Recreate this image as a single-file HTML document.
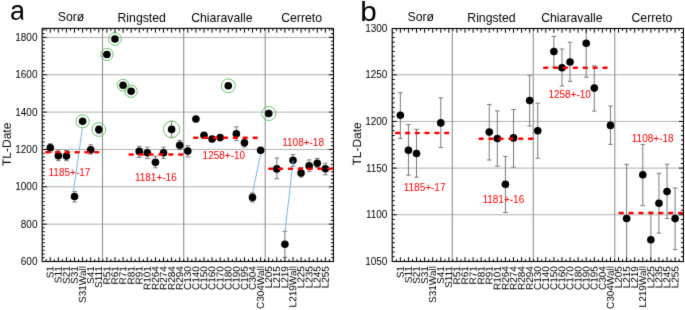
<!DOCTYPE html>
<html><head><meta charset="utf-8"><style>
html,body{margin:0;padding:0;background:#fff;}
body{width:685px;height:310px;overflow:hidden;}
svg{display:block;will-change:transform;}
</style></head><body>
<svg xmlns="http://www.w3.org/2000/svg" width="685" height="310" viewBox="0 0 685 310" font-family='"Liberation Sans", sans-serif'>
<defs><filter id="soft" color-interpolation-filters="sRGB" filterUnits="userSpaceOnUse" x="0" y="0" width="685" height="310"><feConvolveMatrix order="3" kernelMatrix="0.015 0.07 0.015 0.07 0.66 0.07 0.015 0.07 0.015" edgeMode="duplicate"/></filter></defs>
<g filter="url(#soft)">
<rect width="685" height="310" fill="#fff"/>
<line x1="42.2" y1="224.15" x2="333.45" y2="224.15" stroke="#b0b0b0" stroke-width="1"/>
<line x1="42.2" y1="186.8" x2="333.45" y2="186.8" stroke="#b0b0b0" stroke-width="1"/>
<line x1="42.2" y1="149.45" x2="333.45" y2="149.45" stroke="#b0b0b0" stroke-width="1"/>
<line x1="42.2" y1="112.1" x2="333.45" y2="112.1" stroke="#b0b0b0" stroke-width="1"/>
<line x1="42.2" y1="74.75" x2="333.45" y2="74.75" stroke="#b0b0b0" stroke-width="1"/>
<line x1="42.2" y1="37.4" x2="333.45" y2="37.4" stroke="#b0b0b0" stroke-width="1"/>
<line x1="102.5" y1="28.4" x2="102.5" y2="261.5" stroke="#909090" stroke-width="1.1"/>
<line x1="183.7" y1="28.4" x2="183.7" y2="261.5" stroke="#909090" stroke-width="1.1"/>
<line x1="265.2" y1="28.4" x2="265.2" y2="261.5" stroke="#909090" stroke-width="1.1"/>
<text x="37.5" y="264.9" text-anchor="end" font-size="10">600</text>
<text x="37.5" y="227.55" text-anchor="end" font-size="10">800</text>
<text x="37.5" y="190.2" text-anchor="end" font-size="10">1000</text>
<text x="37.5" y="152.85" text-anchor="end" font-size="10">1200</text>
<text x="37.5" y="115.5" text-anchor="end" font-size="10">1400</text>
<text x="37.5" y="78.15" text-anchor="end" font-size="10">1600</text>
<text x="37.5" y="40.8" text-anchor="end" font-size="10">1800</text>
<text transform="translate(53.55,266.1) rotate(-89.9)" text-anchor="end" font-size="10">S1</text>
<text transform="translate(61.64,266.1) rotate(-89.9)" text-anchor="end" font-size="10">S11</text>
<text transform="translate(69.73,266.1) rotate(-89.9)" text-anchor="end" font-size="10">S21</text>
<text transform="translate(77.82,266.1) rotate(-89.9)" text-anchor="end" font-size="10">S31</text>
<text transform="translate(85.91,266.1) rotate(-89.9)" text-anchor="end" font-size="10">S31Wall</text>
<text transform="translate(94,266.1) rotate(-89.9)" text-anchor="end" font-size="10">S41</text>
<text transform="translate(102.09,266.1) rotate(-89.9)" text-anchor="end" font-size="10">S111</text>
<text transform="translate(110.19,266.1) rotate(-89.9)" text-anchor="end" font-size="10">R51</text>
<text transform="translate(118.28,266.1) rotate(-89.9)" text-anchor="end" font-size="10">R61</text>
<text transform="translate(126.37,266.1) rotate(-89.9)" text-anchor="end" font-size="10">R71</text>
<text transform="translate(134.46,266.1) rotate(-89.9)" text-anchor="end" font-size="10">R81</text>
<text transform="translate(142.55,266.1) rotate(-89.9)" text-anchor="end" font-size="10">R91</text>
<text transform="translate(150.64,266.1) rotate(-89.9)" text-anchor="end" font-size="10">R101</text>
<text transform="translate(158.74,266.1) rotate(-89.9)" text-anchor="end" font-size="10">R264</text>
<text transform="translate(166.83,266.1) rotate(-89.9)" text-anchor="end" font-size="10">R274</text>
<text transform="translate(174.92,266.1) rotate(-89.9)" text-anchor="end" font-size="10">R284</text>
<text transform="translate(183.01,266.1) rotate(-89.9)" text-anchor="end" font-size="10">R294</text>
<text transform="translate(191.1,266.1) rotate(-89.9)" text-anchor="end" font-size="10">C130</text>
<text transform="translate(199.19,266.1) rotate(-89.9)" text-anchor="end" font-size="10">C140</text>
<text transform="translate(207.29,266.1) rotate(-89.9)" text-anchor="end" font-size="10">C150</text>
<text transform="translate(215.38,266.1) rotate(-89.9)" text-anchor="end" font-size="10">C160</text>
<text transform="translate(223.47,266.1) rotate(-89.9)" text-anchor="end" font-size="10">C170</text>
<text transform="translate(231.56,266.1) rotate(-89.9)" text-anchor="end" font-size="10">C180</text>
<text transform="translate(239.65,266.1) rotate(-89.9)" text-anchor="end" font-size="10">C190</text>
<text transform="translate(247.74,266.1) rotate(-89.9)" text-anchor="end" font-size="10">C195</text>
<text transform="translate(255.83,266.1) rotate(-89.9)" text-anchor="end" font-size="10">C304</text>
<text transform="translate(263.93,266.1) rotate(-89.9)" text-anchor="end" font-size="10">C304Wall</text>
<text transform="translate(272.02,266.1) rotate(-89.9)" text-anchor="end" font-size="10">L205</text>
<text transform="translate(280.11,266.1) rotate(-89.9)" text-anchor="end" font-size="10">L215</text>
<text transform="translate(288.2,266.1) rotate(-89.9)" text-anchor="end" font-size="10">L219</text>
<text transform="translate(296.29,266.1) rotate(-89.9)" text-anchor="end" font-size="10">L219Wall</text>
<text transform="translate(304.38,266.1) rotate(-89.9)" text-anchor="end" font-size="10">L225</text>
<text transform="translate(312.48,266.1) rotate(-89.9)" text-anchor="end" font-size="10">L235</text>
<text transform="translate(320.57,266.1) rotate(-89.9)" text-anchor="end" font-size="10">L245</text>
<text transform="translate(328.66,266.1) rotate(-89.9)" text-anchor="end" font-size="10">L255</text>
<text x="48.5" y="176" font-size="10" fill="#ff0000">1185+-17</text>
<text x="134.9" y="181.1" font-size="10" fill="#ff0000">1181+-16</text>
<text x="202.6" y="159.2" font-size="10" fill="#ff0000">1258+-10</text>
<text x="282.2" y="146.4" font-size="10" fill="#ff0000">1108+-18</text>
<path d="M50.25 143.7V152.4M47.95 143.7h4.6M47.95 152.4h4.6M58.34 150V160.7M56.04 150h4.6M56.04 160.7h4.6M66.43 150.5V160.7M64.13 150.5h4.6M64.13 160.7h4.6M74.52 191.5V202M72.22 191.5h4.6M72.22 202h4.6M90.7 144.8V154.1M88.4 144.8h4.6M88.4 154.1h4.6M98.79 126V133.5M96.49 126h4.6M96.49 133.5h4.6M139.25 146.3V157.4M136.95 146.3h4.6M136.95 157.4h4.6M147.34 147.2V158.5M145.04 147.2h4.6M145.04 158.5h4.6M155.44 156.2V167.8M153.14 156.2h4.6M153.14 167.8h4.6M163.53 147.2V158.5M161.23 147.2h4.6M161.23 158.5h4.6M171.62 121.3V137.7M169.32 121.3h4.6M169.32 137.7h4.6M179.71 140.4V149.7M177.41 140.4h4.6M177.41 149.7h4.6M187.8 145.8V156.8M185.5 145.8h4.6M185.5 156.8h4.6M236.35 126.9V140.6M234.05 126.9h4.6M234.05 140.6h4.6M244.44 139V147M242.14 139h4.6M242.14 147h4.6M252.53 193V202M250.23 193h4.6M250.23 202h4.6M276.81 158V178.7M274.51 158h4.6M274.51 178.7h4.6M284.9 231.3V257.3M282.6 231.3h4.6M282.6 257.3h4.6M292.99 154.5V166.4M290.69 154.5h4.6M290.69 166.4h4.6M301.08 167.6V177M298.78 167.6h4.6M298.78 177h4.6M309.18 159.9V171.3M306.88 159.9h4.6M306.88 171.3h4.6M317.27 158.4V167.6M314.97 158.4h4.6M314.97 167.6h4.6M325.36 163.2V174.8M323.06 163.2h4.6M323.06 174.8h4.6" stroke="#7a7a7a" stroke-width="1" fill="none"/>
<line x1="82.3" y1="128.4" x2="73.4" y2="192" stroke="#74b8ee" stroke-width="1"/>
<line x1="260.8" y1="153" x2="252.7" y2="192.5" stroke="#74b8ee" stroke-width="1"/>
<circle cx="82.61" cy="121.3" r="6.6" fill="none" stroke="#66c466" stroke-width="1"/>
<circle cx="98.79" cy="129.5" r="6.9" fill="none" stroke="#66c466" stroke-width="1"/>
<circle cx="106.89" cy="54.5" r="6.1" fill="none" stroke="#66c466" stroke-width="1"/>
<circle cx="114.98" cy="39" r="6.3" fill="none" stroke="#66c466" stroke-width="1"/>
<circle cx="123.07" cy="85.2" r="5.9" fill="none" stroke="#66c466" stroke-width="1"/>
<circle cx="131.16" cy="91.3" r="6.1" fill="none" stroke="#66c466" stroke-width="1"/>
<circle cx="171.62" cy="129.4" r="8.2" fill="none" stroke="#66c466" stroke-width="1"/>
<circle cx="228.26" cy="85.8" r="7" fill="none" stroke="#66c466" stroke-width="1"/>
<circle cx="268.72" cy="113.5" r="7" fill="none" stroke="#66c466" stroke-width="1"/>
<g fill="#000"><circle cx="50.25" cy="147.8" r="3.8"/><circle cx="58.34" cy="155.7" r="3.8"/><circle cx="66.43" cy="156" r="3.8"/><circle cx="74.52" cy="196.5" r="3.8"/><circle cx="82.61" cy="121.3" r="3.8"/><circle cx="90.7" cy="149.7" r="3.8"/><circle cx="98.79" cy="129.5" r="3.8"/><circle cx="106.89" cy="54.5" r="3.8"/><circle cx="114.98" cy="39" r="3.8"/><circle cx="123.07" cy="85.2" r="3.8"/><circle cx="131.16" cy="91.3" r="3.8"/><circle cx="139.25" cy="151.4" r="3.8"/><circle cx="147.34" cy="152.7" r="3.8"/><circle cx="155.44" cy="162.2" r="3.8"/><circle cx="163.53" cy="152.7" r="3.8"/><circle cx="171.62" cy="129.4" r="3.8"/><circle cx="179.71" cy="145.2" r="3.8"/><circle cx="187.8" cy="151.1" r="3.8"/><circle cx="195.89" cy="119" r="3.8"/><circle cx="203.99" cy="135.3" r="3.8"/><circle cx="212.08" cy="139" r="3.8"/><circle cx="220.17" cy="137.6" r="3.8"/><circle cx="228.26" cy="85.8" r="3.8"/><circle cx="236.35" cy="133.8" r="3.8"/><circle cx="244.44" cy="142.7" r="3.8"/><circle cx="252.53" cy="197.4" r="3.8"/><circle cx="260.63" cy="150.3" r="3.8"/><circle cx="268.72" cy="113.5" r="3.8"/><circle cx="276.81" cy="168.9" r="3.8"/><circle cx="284.9" cy="244.3" r="3.8"/><circle cx="292.99" cy="160.2" r="3.8"/><circle cx="301.08" cy="173" r="3.8"/><circle cx="309.18" cy="165.9" r="3.8"/><circle cx="317.27" cy="163.3" r="3.8"/><circle cx="325.36" cy="168.8" r="3.8"/></g>
<line x1="293.1" y1="160.6" x2="285.1" y2="231" stroke="#74b8ee" stroke-width="1"/>
<path d="M46.25 152.3h3M56.05 152.3h3M65.85 152.3h3M75.65 152.3h3M85.45 152.3h3M95.25 152.3h3M129.65 154.5h3M139.55 154.5h3M149.45 154.5h3M159.35 154.5h3M169.25 154.5h3M179.15 154.5h3M194.25 137.7h3M204.15 137.7h3M214.05 137.7h3M223.95 137.7h3M233.85 137.7h3M243.75 137.7h3M253.65 137.7h3M269.25 168.8h3M279.1 168.8h3M288.95 168.8h3M298.8 168.8h3M308.65 168.8h3M318.5 168.8h3M328.35 168.8h3" stroke="#ff0000" stroke-width="2.5" stroke-linecap="round" fill="none"/>
<path d="M46.2 28.4v2.4M46.2 261.5v-2.4M50.25 28.4v4.3M50.25 261.5v-4.3M54.29 28.4v2.4M54.29 261.5v-2.4M58.34 28.4v4.3M58.34 261.5v-4.3M62.38 28.4v2.4M62.38 261.5v-2.4M66.43 28.4v4.3M66.43 261.5v-4.3M70.47 28.4v2.4M70.47 261.5v-2.4M74.52 28.4v4.3M74.52 261.5v-4.3M78.57 28.4v2.4M78.57 261.5v-2.4M82.61 28.4v4.3M82.61 261.5v-4.3M86.66 28.4v2.4M86.66 261.5v-2.4M90.7 28.4v4.3M90.7 261.5v-4.3M94.75 28.4v2.4M94.75 261.5v-2.4M98.79 28.4v4.3M98.79 261.5v-4.3M102.84 28.4v2.4M102.84 261.5v-2.4M106.89 28.4v4.3M106.89 261.5v-4.3M110.93 28.4v2.4M110.93 261.5v-2.4M114.98 28.4v4.3M114.98 261.5v-4.3M119.02 28.4v2.4M119.02 261.5v-2.4M123.07 28.4v4.3M123.07 261.5v-4.3M127.12 28.4v2.4M127.12 261.5v-2.4M131.16 28.4v4.3M131.16 261.5v-4.3M135.21 28.4v2.4M135.21 261.5v-2.4M139.25 28.4v4.3M139.25 261.5v-4.3M143.3 28.4v2.4M143.3 261.5v-2.4M147.34 28.4v4.3M147.34 261.5v-4.3M151.39 28.4v2.4M151.39 261.5v-2.4M155.44 28.4v4.3M155.44 261.5v-4.3M159.48 28.4v2.4M159.48 261.5v-2.4M163.53 28.4v4.3M163.53 261.5v-4.3M167.57 28.4v2.4M167.57 261.5v-2.4M171.62 28.4v4.3M171.62 261.5v-4.3M175.66 28.4v2.4M175.66 261.5v-2.4M179.71 28.4v4.3M179.71 261.5v-4.3M183.76 28.4v2.4M183.76 261.5v-2.4M187.8 28.4v4.3M187.8 261.5v-4.3M191.85 28.4v2.4M191.85 261.5v-2.4M195.89 28.4v4.3M195.89 261.5v-4.3M199.94 28.4v2.4M199.94 261.5v-2.4M203.99 28.4v4.3M203.99 261.5v-4.3M208.03 28.4v2.4M208.03 261.5v-2.4M212.08 28.4v4.3M212.08 261.5v-4.3M216.12 28.4v2.4M216.12 261.5v-2.4M220.17 28.4v4.3M220.17 261.5v-4.3M224.21 28.4v2.4M224.21 261.5v-2.4M228.26 28.4v4.3M228.26 261.5v-4.3M232.31 28.4v2.4M232.31 261.5v-2.4M236.35 28.4v4.3M236.35 261.5v-4.3M240.4 28.4v2.4M240.4 261.5v-2.4M244.44 28.4v4.3M244.44 261.5v-4.3M248.49 28.4v2.4M248.49 261.5v-2.4M252.53 28.4v4.3M252.53 261.5v-4.3M256.58 28.4v2.4M256.58 261.5v-2.4M260.63 28.4v4.3M260.63 261.5v-4.3M264.67 28.4v2.4M264.67 261.5v-2.4M268.72 28.4v4.3M268.72 261.5v-4.3M272.76 28.4v2.4M272.76 261.5v-2.4M276.81 28.4v4.3M276.81 261.5v-4.3M280.85 28.4v2.4M280.85 261.5v-2.4M284.9 28.4v4.3M284.9 261.5v-4.3M288.95 28.4v2.4M288.95 261.5v-2.4M292.99 28.4v4.3M292.99 261.5v-4.3M297.04 28.4v2.4M297.04 261.5v-2.4M301.08 28.4v4.3M301.08 261.5v-4.3M305.13 28.4v2.4M305.13 261.5v-2.4M309.18 28.4v4.3M309.18 261.5v-4.3M313.22 28.4v2.4M313.22 261.5v-2.4M317.27 28.4v4.3M317.27 261.5v-4.3M321.31 28.4v2.4M321.31 261.5v-2.4M325.36 28.4v4.3M325.36 261.5v-4.3M329.4 28.4v2.4M329.4 261.5v-2.4M42.2 257.76h2.5M333.45 257.76h-2.5M42.2 254.03h2.5M333.45 254.03h-2.5M42.2 250.29h2.5M333.45 250.29h-2.5M42.2 246.56h2.5M333.45 246.56h-2.5M42.2 242.82h2.5M333.45 242.82h-2.5M42.2 239.09h2.5M333.45 239.09h-2.5M42.2 235.35h2.5M333.45 235.35h-2.5M42.2 231.62h2.5M333.45 231.62h-2.5M42.2 227.88h2.5M333.45 227.88h-2.5M42.2 224.15h4.5M333.45 224.15h-4.5M42.2 220.41h2.5M333.45 220.41h-2.5M42.2 216.68h2.5M333.45 216.68h-2.5M42.2 212.94h2.5M333.45 212.94h-2.5M42.2 209.21h2.5M333.45 209.21h-2.5M42.2 205.47h2.5M333.45 205.47h-2.5M42.2 201.74h2.5M333.45 201.74h-2.5M42.2 198h2.5M333.45 198h-2.5M42.2 194.27h2.5M333.45 194.27h-2.5M42.2 190.53h2.5M333.45 190.53h-2.5M42.2 186.8h4.5M333.45 186.8h-4.5M42.2 183.06h2.5M333.45 183.06h-2.5M42.2 179.33h2.5M333.45 179.33h-2.5M42.2 175.59h2.5M333.45 175.59h-2.5M42.2 171.86h2.5M333.45 171.86h-2.5M42.2 168.12h2.5M333.45 168.12h-2.5M42.2 164.39h2.5M333.45 164.39h-2.5M42.2 160.66h2.5M333.45 160.66h-2.5M42.2 156.92h2.5M333.45 156.92h-2.5M42.2 153.19h2.5M333.45 153.19h-2.5M42.2 149.45h4.5M333.45 149.45h-4.5M42.2 145.72h2.5M333.45 145.72h-2.5M42.2 141.98h2.5M333.45 141.98h-2.5M42.2 138.25h2.5M333.45 138.25h-2.5M42.2 134.51h2.5M333.45 134.51h-2.5M42.2 130.78h2.5M333.45 130.78h-2.5M42.2 127.04h2.5M333.45 127.04h-2.5M42.2 123.31h2.5M333.45 123.31h-2.5M42.2 119.57h2.5M333.45 119.57h-2.5M42.2 115.84h2.5M333.45 115.84h-2.5M42.2 112.1h4.5M333.45 112.1h-4.5M42.2 108.37h2.5M333.45 108.37h-2.5M42.2 104.63h2.5M333.45 104.63h-2.5M42.2 100.9h2.5M333.45 100.9h-2.5M42.2 97.16h2.5M333.45 97.16h-2.5M42.2 93.43h2.5M333.45 93.43h-2.5M42.2 89.69h2.5M333.45 89.69h-2.5M42.2 85.96h2.5M333.45 85.96h-2.5M42.2 82.22h2.5M333.45 82.22h-2.5M42.2 78.49h2.5M333.45 78.49h-2.5M42.2 74.75h4.5M333.45 74.75h-4.5M42.2 71.02h2.5M333.45 71.02h-2.5M42.2 67.28h2.5M333.45 67.28h-2.5M42.2 63.54h2.5M333.45 63.54h-2.5M42.2 59.81h2.5M333.45 59.81h-2.5M42.2 56.07h2.5M333.45 56.07h-2.5M42.2 52.34h2.5M333.45 52.34h-2.5M42.2 48.6h2.5M333.45 48.6h-2.5M42.2 44.87h2.5M333.45 44.87h-2.5M42.2 41.13h2.5M333.45 41.13h-2.5M42.2 37.4h4.5M333.45 37.4h-4.5M42.2 33.66h2.5M333.45 33.66h-2.5M42.2 29.93h2.5M333.45 29.93h-2.5" stroke="#000" stroke-width="1" fill="none"/><rect x="42.2" y="28.4" width="291.25" height="233.1" fill="none" stroke="#000" stroke-width="1.1"/>
<line x1="392.2" y1="214.75" x2="683.45" y2="214.75" stroke="#b0b0b0" stroke-width="1"/>
<line x1="392.2" y1="168.1" x2="683.45" y2="168.1" stroke="#b0b0b0" stroke-width="1"/>
<line x1="392.2" y1="121.45" x2="683.45" y2="121.45" stroke="#b0b0b0" stroke-width="1"/>
<line x1="392.2" y1="74.8" x2="683.45" y2="74.8" stroke="#b0b0b0" stroke-width="1"/>
<line x1="452.3" y1="28.5" x2="452.3" y2="261.5" stroke="#909090" stroke-width="1.1"/>
<line x1="533.3" y1="28.5" x2="533.3" y2="261.5" stroke="#909090" stroke-width="1.1"/>
<line x1="614.8" y1="28.5" x2="614.8" y2="261.5" stroke="#909090" stroke-width="1.1"/>
<text x="387.4" y="264.8" text-anchor="end" font-size="10">1050</text>
<text x="387.4" y="218.15" text-anchor="end" font-size="10">1100</text>
<text x="387.4" y="171.5" text-anchor="end" font-size="10">1150</text>
<text x="387.4" y="124.85" text-anchor="end" font-size="10">1200</text>
<text x="387.4" y="78.2" text-anchor="end" font-size="10">1250</text>
<text x="387.4" y="31.55" text-anchor="end" font-size="10">1300</text>
<text transform="translate(403.67,266.1) rotate(-89.9)" text-anchor="end" font-size="10">S1</text>
<text transform="translate(411.75,266.1) rotate(-89.9)" text-anchor="end" font-size="10">S11</text>
<text transform="translate(419.83,266.1) rotate(-89.9)" text-anchor="end" font-size="10">S21</text>
<text transform="translate(427.91,266.1) rotate(-89.9)" text-anchor="end" font-size="10">S31</text>
<text transform="translate(435.99,266.1) rotate(-89.9)" text-anchor="end" font-size="10">S31Wall</text>
<text transform="translate(444.07,266.1) rotate(-89.9)" text-anchor="end" font-size="10">S41</text>
<text transform="translate(452.15,266.1) rotate(-89.9)" text-anchor="end" font-size="10">S111</text>
<text transform="translate(460.23,266.1) rotate(-89.9)" text-anchor="end" font-size="10">R51</text>
<text transform="translate(468.31,266.1) rotate(-89.9)" text-anchor="end" font-size="10">R61</text>
<text transform="translate(476.4,266.1) rotate(-89.9)" text-anchor="end" font-size="10">R71</text>
<text transform="translate(484.48,266.1) rotate(-89.9)" text-anchor="end" font-size="10">R81</text>
<text transform="translate(492.56,266.1) rotate(-89.9)" text-anchor="end" font-size="10">R91</text>
<text transform="translate(500.64,266.1) rotate(-89.9)" text-anchor="end" font-size="10">R101</text>
<text transform="translate(508.72,266.1) rotate(-89.9)" text-anchor="end" font-size="10">R264</text>
<text transform="translate(516.8,266.1) rotate(-89.9)" text-anchor="end" font-size="10">R274</text>
<text transform="translate(524.88,266.1) rotate(-89.9)" text-anchor="end" font-size="10">R284</text>
<text transform="translate(532.96,266.1) rotate(-89.9)" text-anchor="end" font-size="10">R294</text>
<text transform="translate(541.04,266.1) rotate(-89.9)" text-anchor="end" font-size="10">C130</text>
<text transform="translate(549.12,266.1) rotate(-89.9)" text-anchor="end" font-size="10">C140</text>
<text transform="translate(557.2,266.1) rotate(-89.9)" text-anchor="end" font-size="10">C150</text>
<text transform="translate(565.28,266.1) rotate(-89.9)" text-anchor="end" font-size="10">C160</text>
<text transform="translate(573.36,266.1) rotate(-89.9)" text-anchor="end" font-size="10">C170</text>
<text transform="translate(581.44,266.1) rotate(-89.9)" text-anchor="end" font-size="10">C180</text>
<text transform="translate(589.52,266.1) rotate(-89.9)" text-anchor="end" font-size="10">C190</text>
<text transform="translate(597.6,266.1) rotate(-89.9)" text-anchor="end" font-size="10">C195</text>
<text transform="translate(605.68,266.1) rotate(-89.9)" text-anchor="end" font-size="10">C304</text>
<text transform="translate(613.76,266.1) rotate(-89.9)" text-anchor="end" font-size="10">C304Wall</text>
<text transform="translate(621.85,266.1) rotate(-89.9)" text-anchor="end" font-size="10">L205</text>
<text transform="translate(629.93,266.1) rotate(-89.9)" text-anchor="end" font-size="10">L215</text>
<text transform="translate(638.01,266.1) rotate(-89.9)" text-anchor="end" font-size="10">L219</text>
<text transform="translate(646.09,266.1) rotate(-89.9)" text-anchor="end" font-size="10">L219Wall</text>
<text transform="translate(654.17,266.1) rotate(-89.9)" text-anchor="end" font-size="10">L225</text>
<text transform="translate(662.25,266.1) rotate(-89.9)" text-anchor="end" font-size="10">L235</text>
<text transform="translate(670.33,266.1) rotate(-89.9)" text-anchor="end" font-size="10">L245</text>
<text transform="translate(678.41,266.1) rotate(-89.9)" text-anchor="end" font-size="10">L255</text>
<text x="403.7" y="190.9" font-size="10" fill="#ff0000">1185+-17</text>
<text x="482.4" y="202.6" font-size="10" fill="#ff0000">1181+-16</text>
<text x="548.4" y="97.8" font-size="10" fill="#ff0000">1258+-10</text>
<text x="631.8" y="141.8" font-size="10" fill="#ff0000">1108+-18</text>
<path d="M400.37 92.7V138.4M398.07 92.7h4.6M398.07 138.4h4.6M408.45 124.5V175.2M406.15 124.5h4.6M406.15 175.2h4.6M416.53 129.4V177.2M414.23 129.4h4.6M414.23 177.2h4.6M440.77 97.9V147.5M438.47 97.9h4.6M438.47 147.5h4.6M489.26 104.5V160M486.96 104.5h4.6M486.96 160h4.6M497.34 110.9V166.2M495.04 110.9h4.6M495.04 166.2h4.6M505.42 156.4V212.5M503.12 156.4h4.6M503.12 212.5h4.6M513.5 109.5V167.2M511.2 109.5h4.6M511.2 167.2h4.6M529.66 75.3V126M527.36 75.3h4.6M527.36 126h4.6M537.74 103.2V158.2M535.44 103.2h4.6M535.44 158.2h4.6M553.9 36.3V67M551.6 36.3h4.6M551.6 67h4.6M561.98 49V86M559.68 49h4.6M559.68 86h4.6M570.06 42.3V81.3M567.76 42.3h4.6M567.76 81.3h4.6M586.22 28.5V77.2M583.92 77.2h4.6M594.3 65.8V111.1M592 65.8h4.6M592 111.1h4.6M610.47 106V144.4M608.17 106h4.6M608.17 144.4h4.6M626.63 164.3V261.5M624.33 164.3h4.6M642.79 144.4V205.7M640.49 144.4h4.6M640.49 205.7h4.6M650.87 212V261.5M648.57 212h4.6M658.95 173.3V233.1M656.65 173.3h4.6M656.65 233.1h4.6M667.03 164.2V218.6M664.73 164.2h4.6M664.73 218.6h4.6M675.11 188V249.5M672.81 188h4.6M672.81 249.5h4.6" stroke="#7a7a7a" stroke-width="1" fill="none"/>
<g fill="#000"><circle cx="400.37" cy="115.2" r="3.8"/><circle cx="408.45" cy="150.2" r="3.8"/><circle cx="416.53" cy="153.5" r="3.8"/><circle cx="440.77" cy="122.9" r="3.8"/><circle cx="489.26" cy="132.1" r="3.8"/><circle cx="497.34" cy="138.5" r="3.8"/><circle cx="505.42" cy="184.3" r="3.8"/><circle cx="513.5" cy="137.9" r="3.8"/><circle cx="529.66" cy="100.5" r="3.8"/><circle cx="537.74" cy="130.8" r="3.8"/><circle cx="553.9" cy="51.5" r="3.8"/><circle cx="561.98" cy="67.7" r="3.8"/><circle cx="570.06" cy="62" r="3.8"/><circle cx="586.22" cy="43.3" r="3.8"/><circle cx="594.3" cy="88.1" r="3.8"/><circle cx="610.47" cy="125.4" r="3.8"/><circle cx="626.63" cy="218.5" r="3.8"/><circle cx="642.79" cy="174.7" r="3.8"/><circle cx="650.87" cy="239.7" r="3.8"/><circle cx="658.95" cy="203.3" r="3.8"/><circle cx="667.03" cy="191.5" r="3.8"/><circle cx="675.11" cy="218.6" r="3.8"/></g>
<path d="M396.15 133h3M405.95 133h3M415.75 133h3M425.55 133h3M435.35 133h3M445.15 133h3M479.65 138.7h3M489.55 138.7h3M499.45 138.7h3M509.35 138.7h3M519.25 138.7h3M529.15 138.7h3M544.15 67.8h3M554.05 67.8h3M563.95 67.8h3M573.85 67.8h3M583.75 67.8h3M593.65 67.8h3M603.55 67.8h3M619.65 213h3M629.55 213h3M639.45 213h3M649.35 213h3M659.25 213h3M669.15 213h3M679.05 213h3" stroke="#ff0000" stroke-width="2.5" stroke-linecap="round" fill="none"/>
<path d="M396.33 28.5v2.4M396.33 261.5v-2.4M400.37 28.5v4.3M400.37 261.5v-4.3M404.41 28.5v2.4M404.41 261.5v-2.4M408.45 28.5v4.3M408.45 261.5v-4.3M412.49 28.5v2.4M412.49 261.5v-2.4M416.53 28.5v4.3M416.53 261.5v-4.3M420.57 28.5v2.4M420.57 261.5v-2.4M424.61 28.5v4.3M424.61 261.5v-4.3M428.65 28.5v2.4M428.65 261.5v-2.4M432.69 28.5v4.3M432.69 261.5v-4.3M436.73 28.5v2.4M436.73 261.5v-2.4M440.77 28.5v4.3M440.77 261.5v-4.3M444.81 28.5v2.4M444.81 261.5v-2.4M448.85 28.5v4.3M448.85 261.5v-4.3M452.89 28.5v2.4M452.89 261.5v-2.4M456.93 28.5v4.3M456.93 261.5v-4.3M460.97 28.5v2.4M460.97 261.5v-2.4M465.01 28.5v4.3M465.01 261.5v-4.3M469.06 28.5v2.4M469.06 261.5v-2.4M473.1 28.5v4.3M473.1 261.5v-4.3M477.14 28.5v2.4M477.14 261.5v-2.4M481.18 28.5v4.3M481.18 261.5v-4.3M485.22 28.5v2.4M485.22 261.5v-2.4M489.26 28.5v4.3M489.26 261.5v-4.3M493.3 28.5v2.4M493.3 261.5v-2.4M497.34 28.5v4.3M497.34 261.5v-4.3M501.38 28.5v2.4M501.38 261.5v-2.4M505.42 28.5v4.3M505.42 261.5v-4.3M509.46 28.5v2.4M509.46 261.5v-2.4M513.5 28.5v4.3M513.5 261.5v-4.3M517.54 28.5v2.4M517.54 261.5v-2.4M521.58 28.5v4.3M521.58 261.5v-4.3M525.62 28.5v2.4M525.62 261.5v-2.4M529.66 28.5v4.3M529.66 261.5v-4.3M533.7 28.5v2.4M533.7 261.5v-2.4M537.74 28.5v4.3M537.74 261.5v-4.3M541.78 28.5v2.4M541.78 261.5v-2.4M545.82 28.5v4.3M545.82 261.5v-4.3M549.86 28.5v2.4M549.86 261.5v-2.4M553.9 28.5v4.3M553.9 261.5v-4.3M557.94 28.5v2.4M557.94 261.5v-2.4M561.98 28.5v4.3M561.98 261.5v-4.3M566.02 28.5v2.4M566.02 261.5v-2.4M570.06 28.5v4.3M570.06 261.5v-4.3M574.1 28.5v2.4M574.1 261.5v-2.4M578.14 28.5v4.3M578.14 261.5v-4.3M582.18 28.5v2.4M582.18 261.5v-2.4M586.22 28.5v4.3M586.22 261.5v-4.3M590.26 28.5v2.4M590.26 261.5v-2.4M594.3 28.5v4.3M594.3 261.5v-4.3M598.34 28.5v2.4M598.34 261.5v-2.4M602.38 28.5v4.3M602.38 261.5v-4.3M606.42 28.5v2.4M606.42 261.5v-2.4M610.47 28.5v4.3M610.47 261.5v-4.3M614.51 28.5v2.4M614.51 261.5v-2.4M618.55 28.5v4.3M618.55 261.5v-4.3M622.59 28.5v2.4M622.59 261.5v-2.4M626.63 28.5v4.3M626.63 261.5v-4.3M630.67 28.5v2.4M630.67 261.5v-2.4M634.71 28.5v4.3M634.71 261.5v-4.3M638.75 28.5v2.4M638.75 261.5v-2.4M642.79 28.5v4.3M642.79 261.5v-4.3M646.83 28.5v2.4M646.83 261.5v-2.4M650.87 28.5v4.3M650.87 261.5v-4.3M654.91 28.5v2.4M654.91 261.5v-2.4M658.95 28.5v4.3M658.95 261.5v-4.3M662.99 28.5v2.4M662.99 261.5v-2.4M667.03 28.5v4.3M667.03 261.5v-4.3M671.07 28.5v2.4M671.07 261.5v-2.4M675.11 28.5v4.3M675.11 261.5v-4.3M679.15 28.5v2.4M679.15 261.5v-2.4M392.2 256.73h2.5M683.45 256.73h-2.5M392.2 252.07h2.5M683.45 252.07h-2.5M392.2 247.4h2.5M683.45 247.4h-2.5M392.2 242.74h2.5M683.45 242.74h-2.5M392.2 238.07h2.5M683.45 238.07h-2.5M392.2 233.41h2.5M683.45 233.41h-2.5M392.2 228.74h2.5M683.45 228.74h-2.5M392.2 224.08h2.5M683.45 224.08h-2.5M392.2 219.41h2.5M683.45 219.41h-2.5M392.2 214.75h4.5M683.45 214.75h-4.5M392.2 210.08h2.5M683.45 210.08h-2.5M392.2 205.42h2.5M683.45 205.42h-2.5M392.2 200.75h2.5M683.45 200.75h-2.5M392.2 196.09h2.5M683.45 196.09h-2.5M392.2 191.42h2.5M683.45 191.42h-2.5M392.2 186.76h2.5M683.45 186.76h-2.5M392.2 182.09h2.5M683.45 182.09h-2.5M392.2 177.43h2.5M683.45 177.43h-2.5M392.2 172.76h2.5M683.45 172.76h-2.5M392.2 168.1h4.5M683.45 168.1h-4.5M392.2 163.43h2.5M683.45 163.43h-2.5M392.2 158.77h2.5M683.45 158.77h-2.5M392.2 154.1h2.5M683.45 154.1h-2.5M392.2 149.44h2.5M683.45 149.44h-2.5M392.2 144.77h2.5M683.45 144.77h-2.5M392.2 140.11h2.5M683.45 140.11h-2.5M392.2 135.44h2.5M683.45 135.44h-2.5M392.2 130.78h2.5M683.45 130.78h-2.5M392.2 126.11h2.5M683.45 126.11h-2.5M392.2 121.45h4.5M683.45 121.45h-4.5M392.2 116.78h2.5M683.45 116.78h-2.5M392.2 112.12h2.5M683.45 112.12h-2.5M392.2 107.45h2.5M683.45 107.45h-2.5M392.2 102.79h2.5M683.45 102.79h-2.5M392.2 98.12h2.5M683.45 98.12h-2.5M392.2 93.46h2.5M683.45 93.46h-2.5M392.2 88.79h2.5M683.45 88.79h-2.5M392.2 84.13h2.5M683.45 84.13h-2.5M392.2 79.46h2.5M683.45 79.46h-2.5M392.2 74.8h4.5M683.45 74.8h-4.5M392.2 70.13h2.5M683.45 70.13h-2.5M392.2 65.47h2.5M683.45 65.47h-2.5M392.2 60.8h2.5M683.45 60.8h-2.5M392.2 56.14h2.5M683.45 56.14h-2.5M392.2 51.47h2.5M683.45 51.47h-2.5M392.2 46.81h2.5M683.45 46.81h-2.5M392.2 42.14h2.5M683.45 42.14h-2.5M392.2 37.48h2.5M683.45 37.48h-2.5M392.2 32.81h2.5M683.45 32.81h-2.5" stroke="#000" stroke-width="1" fill="none"/><rect x="392.2" y="28.5" width="291.25" height="233" fill="none" stroke="#000" stroke-width="1.1"/>
<text x="57.8" y="20.7" font-size="12.25">Sorø</text>
<text x="117.5" y="21.9" font-size="12.25">Ringsted</text>
<text x="191.2" y="22.1" font-size="12.25">Chiaravalle</text>
<text x="281.2" y="21.6" font-size="12.25">Cerreto</text>
<text x="407.5" y="20.8" font-size="12.25">Sorø</text>
<text x="467.3" y="21.9" font-size="12.25">Ringsted</text>
<text x="541.2" y="22.1" font-size="12.25">Chiaravalle</text>
<text x="631.5" y="21.6" font-size="12.25">Cerreto</text>
<clipPath id="ca"><rect x="0" y="0" width="23.2" height="28"/></clipPath>
<text x="10" y="19.6" font-size="27" clip-path="url(#ca)">a</text>
<text transform="translate(360.2,20.8) scale(1.1,1)" font-size="27">b</text>
<text transform="translate(10.8,166) rotate(-89.9)" font-size="12">TL-Date</text>
<text transform="translate(361,165.6) rotate(-89.9)" font-size="12">TL-Date</text>
</g>
</svg>
</body></html>
